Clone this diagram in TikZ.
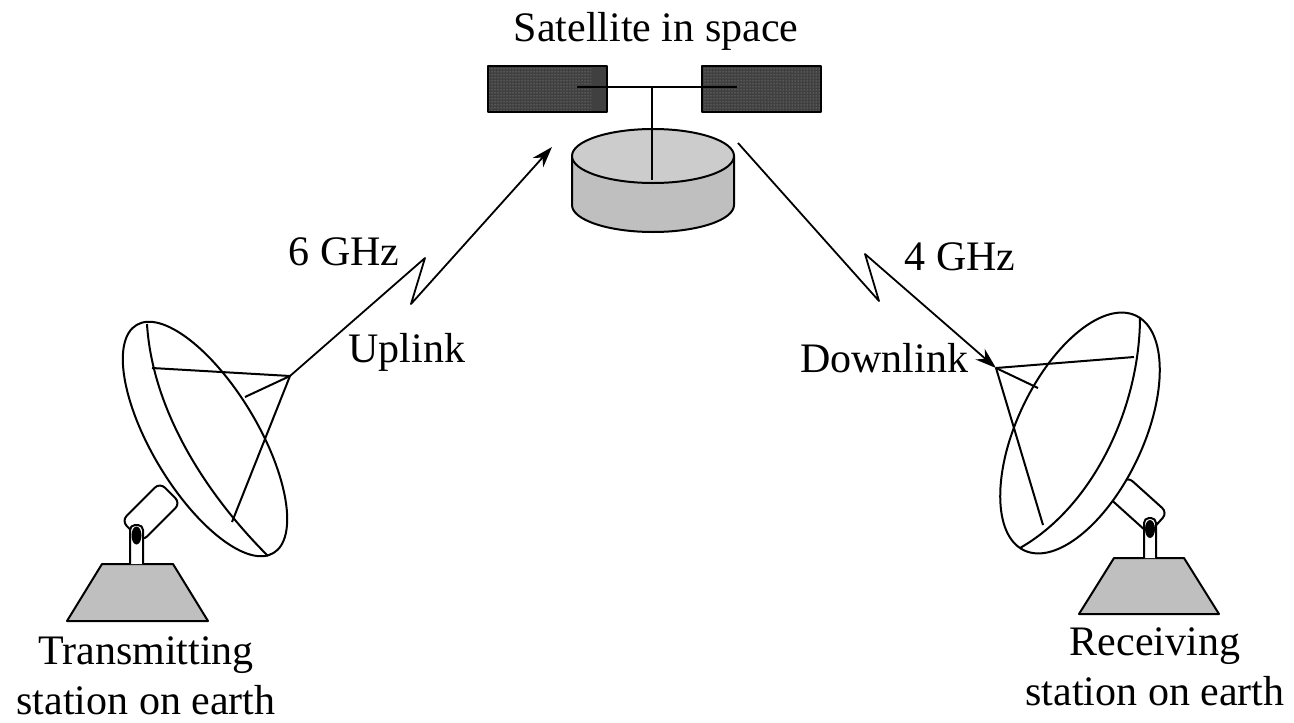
\documentclass[tikz,border=0pt]{standalone}
\usepackage{fontspec}
\setmainfont{Liberation Serif}
\usetikzlibrary{arrows.meta,patterns}
\definecolor{cyltop}{gray}{0.80}
\definecolor{cylside}{gray}{0.75}
\definecolor{basegray}{gray}{0.75}
\definecolor{paneldark}{gray}{0.25}
\definecolor{paneldot}{gray}{0.65}
\begin{document}
\begin{tikzpicture}[x=1pt,y=-1pt, line width=2pt, line join=round,
  lbl/.style={font=\fontsize{42}{50}\selectfont, inner sep=0pt, anchor=base, align=center},
  link/.style={line width=1.8pt, -{Stealth[length=21pt,width=14pt]}},
  panelbox/.style={fill=paneldark},
  dotsfill/.style={pattern=dots, pattern color=paneldot},
  dishface/.style={fill=white},
  mountbox/.style={fill=white, rounded corners=7pt},
  postbox/.style={fill=white, rounded corners=5pt},
  pivot/.style={fill=black},
  standbase/.style={fill=basegray}]
\path[use as bounding box, fill=white] (0,0) rectangle (1294,723);

% ---------------- Satellite ----------------
\draw[fill=cylside] (572,156) -- (572,205)
  arc[start angle=180, end angle=360, x radius=81pt, y radius=27pt] -- (734,156) -- cycle;
\draw[fill=cyltop] (653,156) ellipse [x radius=81pt, y radius=27pt];
\fill[paneldark] (488,66) rectangle (607,112);
\fill[dotsfill] (488,66) rectangle (591,112);
\draw (488,66) rectangle (607,112);
\fill[paneldark] (702,66) rectangle (821,112);
\fill[dotsfill] (702,66) rectangle (821,112);
\draw (702,66) rectangle (821,112);
\coordinate (barL) at (577,87);
\coordinate (barR) at (737,87);
\coordinate (barM) at (652,87);
\coordinate (mast) at (652,180);
\draw (barL) -- (barR);
\draw (barM) -- (mast);
\node[lbl] (sattext) at (656,41) {Satellite in space};

% ---------------- Transmitting station ----------------
\draw[standbase] (102,564) -- (173,564) -- (208,621) -- (67,621) -- cycle;
\draw[mountbox, rotate around={45:(151,512)}] (124,497.5) rectangle (178,526.5);
\draw[postbox] (130,564) -- (130,525) -- (143,525) -- (143,564);
\fill[pivot] (136.5,535.5) ellipse [x radius=5pt, y radius=9pt];
\draw[dishface, rotate around={-59:(205,439)}] (205,439) ellipse [x radius=133pt, y radius=53pt];
\draw (147,324) .. controls (152,405) and (200,488) .. (268,556);
\coordinate (feedL) at (290,376);
\draw (152,368) -- (feedL);
\draw (245,397) -- (feedL);
\draw (232,522) -- (feedL);
\node[lbl] (txtL) at (146,714) {Transmitting\\station on earth};

% ---------------- Receiving station ----------------
\draw[standbase] (1114,558) -- (1184,558) -- (1219,614) -- (1079,614) -- cycle;
\draw[mountbox, rotate around={-42:(1138,505)}] (1111,491) rectangle (1165,519);
\draw[postbox] (1144,558) -- (1144,518) -- (1156,518) -- (1156,558);
\fill[pivot] (1150,529) ellipse [x radius=5pt, y radius=9pt];
\draw[dishface, rotate around={64.5:(1080,433)}] (1080,433) ellipse [x radius=130pt, y radius=63pt];
\draw (1140,317) .. controls (1140,405) and (1095,505) .. (1020,548);
\coordinate (feedR) at (996,368);
\draw (1134,357) -- (feedR);
\draw (1038,388) -- (feedR);
\draw (1043,525) -- (feedR);
\node[lbl] (txtR) at (1155,705) {Receiving\\station on earth};

% ---------------- Links ----------------
\coordinate (upA) at (425,258);
\coordinate (upB) at (411,304);
\coordinate (satIn) at (552,147);
\draw[link] (feedL) -- (upA) -- (upB) -- (satIn);
\coordinate (satOut) at (738,143);
\coordinate (dnA) at (879,301);
\coordinate (dnB) at (865,254);
\draw[link] (satOut) -- (dnA) -- (dnB) -- (feedR);

\node[lbl] (upf) at (344,265) {6 GHz};
\node[lbl] (upl) at (407,362) {Uplink};
\node[lbl] (dnf) at (960,270) {4 GHz};
\node[lbl] (dnl) at (884,372) {Downlink};
\end{tikzpicture}
\end{document}
